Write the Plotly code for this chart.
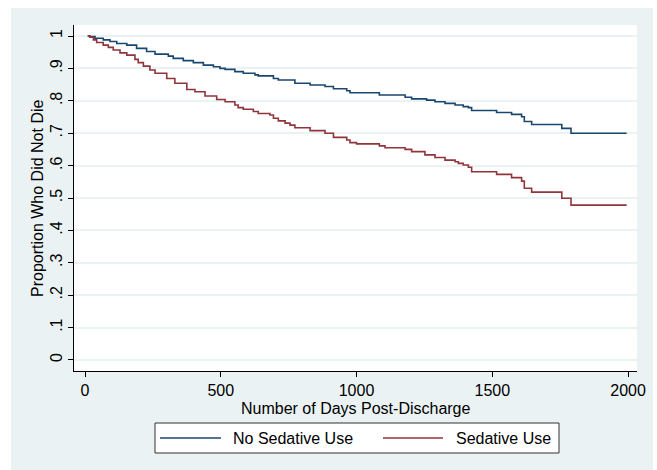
import plotly.graph_objects as go

# Kaplan-Meier style step data
no_sed_days = [10, 18, 37, 67, 92, 117, 154, 190, 227, 258, 307, 325, 362, 399, 436, 473, 497,
               516, 552, 583, 626, 638, 694, 712, 773, 829, 884, 915, 964, 976,
               1084, 1179, 1203, 1258, 1289, 1326, 1363, 1393, 1412, 1424, 1516,
               1571, 1608, 1618, 1645, 1756, 1790, 1995]
no_sed_surv = [1.0, 0.998, 0.993, 0.988, 0.983, 0.977, 0.972, 0.962, 0.952, 0.944, 0.938, 0.931,
               0.924, 0.918, 0.910, 0.905, 0.900,
               0.897, 0.890, 0.885, 0.880, 0.877, 0.869, 0.864, 0.854, 0.849, 0.844, 0.837,
               0.831, 0.825,
               0.818, 0.811, 0.806, 0.802, 0.797, 0.792, 0.787, 0.782, 0.779, 0.770, 0.764,
               0.758, 0.751, 0.736, 0.727, 0.715, 0.700, 0.700]

sed_days = [10, 18, 31, 43, 67, 86, 104, 129, 154, 184, 196, 215, 239, 258, 301, 331, 375, 405,
            442, 485, 516, 552, 564, 583, 620, 638, 681, 694, 712, 737, 755, 773, 829, 884,
            915, 964, 976, 1000, 1084, 1105, 1179, 1203, 1252, 1289, 1326, 1363, 1375, 1393,
            1412, 1424, 1516, 1571, 1608, 1618, 1645, 1756, 1790, 1995]
sed_surv = [1.0, 0.996, 0.988, 0.980, 0.972, 0.965, 0.957, 0.948, 0.941, 0.928, 0.918, 0.907,
            0.895, 0.885, 0.869, 0.854, 0.835, 0.828,
            0.815, 0.804, 0.797, 0.787, 0.779, 0.774, 0.767, 0.761, 0.756, 0.746, 0.738,
            0.731, 0.725, 0.717, 0.708, 0.700,
            0.687, 0.679, 0.671, 0.667, 0.661, 0.655, 0.650, 0.643, 0.633, 0.625, 0.617,
            0.612, 0.607, 0.602,
            0.595, 0.581, 0.573, 0.563, 0.552, 0.530, 0.518, 0.499, 0.478, 0.478]

series_names = ["No Sedative Use", "Sedative Use"]
series_colors = ["#1A476F", "#90353B"]

y_tickvals = [0, 0.1, 0.2, 0.3, 0.4, 0.5, 0.6, 0.7, 0.8, 0.9, 1.0]
y_ticktext = ["0", ".1", ".2", ".3", ".4", ".5", ".6", ".7", ".8", ".9", "1"]
x_tickvals = [0, 500, 1000, 1500, 2000]
x_title = "Number of Days Post-Discharge"
y_title = "Proportion Who Did Not Die"

BG = "#EAF2F3"
FONT = "Liberation Sans, Arial, Helvetica, sans-serif"

fig = go.Figure()
for days, surv, name, col in [(no_sed_days, no_sed_surv, series_names[0], series_colors[0]),
                              (sed_days, sed_surv, series_names[1], series_colors[1])]:
    fig.add_trace(go.Scatter(x=days, y=surv, mode="lines", name=name,
                             line=dict(color=col, width=1.6, shape="hv"),
                             showlegend=False, hoverinfo="skip"))

W, H = 657, 470
L, R, T, B = 74, 20, 25, 99
pw, ph = W - L - R, H - T - B


def px_x(p):
    return (p - L) / pw


def px_y(p):
    return (H - B - p) / ph


shapes = [
    # thin white outer border strips
    dict(type="rect", xref="paper", yref="paper", x0=px_x(0), x1=px_x(11),
         y0=px_y(470), y1=px_y(0), fillcolor="white", line=dict(width=0), layer="above"),
    dict(type="rect", xref="paper", yref="paper", x0=px_x(0), x1=px_x(657),
         y0=px_y(8), y1=px_y(0), fillcolor="white", line=dict(width=0), layer="above"),
    dict(type="rect", xref="paper", yref="paper", x0=px_x(653), x1=px_x(657),
         y0=px_y(470), y1=px_y(0), fillcolor="white", line=dict(width=0), layer="above"),
    # legend box
    dict(type="rect", xref="paper", yref="paper", x0=px_x(155), x1=px_x(559),
         y0=px_y(453), y1=px_y(423), fillcolor="white",
         line=dict(color="#333333", width=1), layer="above"),
]
annotations = [
    dict(xref="paper", yref="paper", x=px_x(37), y=px_y(198), text=y_title, textangle=-90,
         showarrow=False, xanchor="center", yanchor="middle",
         font=dict(family=FONT, size=16, color="black")),
    dict(xref="paper", yref="paper", x=px_x(356), y=px_y(408), text=x_title,
         showarrow=False, xanchor="center", yanchor="middle",
         font=dict(family=FONT, size=16, color="black")),
]
leg_y = px_y(438)
leg_items = [(160, 221, 231), (383, 443, 454)]
for (x0, x1, xt), name, col in zip(leg_items, series_names, series_colors):
    shapes.append(dict(type="line", xref="paper", yref="paper", x0=px_x(x0), x1=px_x(x1),
                       y0=leg_y, y1=leg_y, line=dict(color=col, width=1.6), layer="above"))
    annotations.append(dict(xref="paper", yref="paper", x=px_x(xt), y=leg_y, text=name,
                            showarrow=False, xanchor="left", yanchor="middle",
                            font=dict(family=FONT, size=16, color="black")))

fig.update_layout(
    template="none",
    width=W, height=H,
    margin=dict(l=L, r=R, t=T, b=B, pad=0, autoexpand=False),
    paper_bgcolor=BG, plot_bgcolor="white",
    font=dict(family=FONT, size=16, color="black"),
    shapes=shapes, annotations=annotations,
    showlegend=False, hovermode=False,
)
fig.update_xaxes(
    automargin=False,
    range=[-40.5, 2033], tickvals=x_tickvals, ticks="outside", ticklen=5,
    tickcolor="black", showline=True, linecolor="black", linewidth=1,
    showgrid=False, zeroline=False, tickfont=dict(size=16),
)
fig.update_yaxes(
    automargin=False,
    range=[-0.034, 1.034], tickvals=y_tickvals, ticktext=y_ticktext, tickangle=-90,
    ticks="outside", ticklen=5, tickcolor="black", showline=True, linecolor="black",
    linewidth=1, showgrid=True, gridcolor=BG, gridwidth=1.5, zeroline=False,
    tickfont=dict(size=16),
)

fig.write_html("out.html", config={"displayModeBar": False},
               post_script="document.body.style.margin='0';document.body.style.overflow='hidden';")
